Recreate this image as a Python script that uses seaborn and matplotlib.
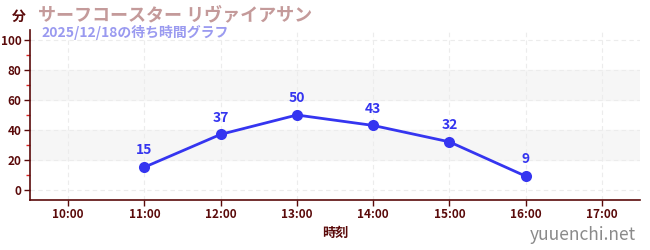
import matplotlib
matplotlib.use("Agg")
import matplotlib.pyplot as plt
import seaborn as sns
import pandas as pd
from matplotlib.ticker import FixedLocator, MultipleLocator

hours = [11, 12, 13, 14, 15, 16]
waits = [15, 37, 50, 43, 32, 9]
tick_hours = [10, 11, 12, 13, 14, 15, 16, 17]
tick_labels = ["10:00", "11:00", "12:00", "13:00", "14:00", "15:00", "16:00", "17:00"]
title = "サーフコースター リヴァイアサン"
subtitle = "2025/12/18の待ち時間グラフ"

sns.set_theme(style="white")
plt.rcParams['font.family'] = ['Noto Sans CJK JP', 'DejaVu Sans']

df = pd.DataFrame({"hour": hours, "wait": waits})

fig = plt.figure(figsize=(6.5, 2.5), dpi=100)
ax = fig.add_axes([30/650, 50/250, 610/650, 170/250])

dark = "#5a0a0a"
line_c = "#3535f0"

for lo, hi in [(20, 40), (60, 80)]:
    ax.axhspan(lo, hi, color="#f6f6f6", zorder=0)

sns.lineplot(data=df, x="hour", y="wait", ax=ax, color=line_c, linewidth=2,
             marker="o", markersize=8, markeredgewidth=0, zorder=3)

for h, w in zip(hours, waits):
    ax.annotate(str(w), (h, w), xytext=(0, 7), textcoords="offset points",
                ha="center", va="bottom", color=line_c, fontsize=10, fontweight="bold")

ax.set_xlim(9.5, 17.5)
ax.set_ylim(-7, 107)
ax.xaxis.set_major_locator(FixedLocator(tick_hours))
ax.set_xticklabels(tick_labels)
ax.yaxis.set_major_locator(MultipleLocator(20))
ax.yaxis.set_minor_locator(MultipleLocator(10))
ax.grid(True, which="major", color="#ececec", linestyle=(0, (4, 3)), linewidth=0.8)
ax.set_axisbelow(True)

for s in ["top", "right"]:
    ax.spines[s].set_visible(False)
for s in ["left", "bottom"]:
    ax.spines[s].set_color(dark)
    ax.spines[s].set_linewidth(1.2)

ax.tick_params(axis="both", which="major", colors=dark, labelsize=8.5, length=4, width=1,
               direction="out", left=True, bottom=True, pad=2)
ax.tick_params(axis="y", which="minor", colors="#dd2222", length=3, width=1, left=True)
for lab in ax.get_xticklabels() + ax.get_yticklabels():
    lab.set_color(dark)
    lab.set_fontweight("bold")

ax.set_xlabel("時刻", color=dark, fontsize=9.5, fontweight="bold", labelpad=3)
ax.set_ylabel("")

fig.text(12/650, 1 - 17/250, "分", color=dark, fontsize=10, fontweight="bold", va="center", ha="left")
fig.text(38/650, 1 - 15/250, title, color="#c49a9a", fontsize=13, fontweight="bold", va="center", ha="left")
fig.text(41/650, 1 - 32/250, subtitle, color="#9a9af0", fontsize=10, fontweight="bold", va="center", ha="left")
fig.text(636/650, 1 - 235/250, "yuuenchi.net", color="#8a8a8a", fontsize=12.5, va="center", ha="right")

fig.savefig("out.png", dpi=100)
